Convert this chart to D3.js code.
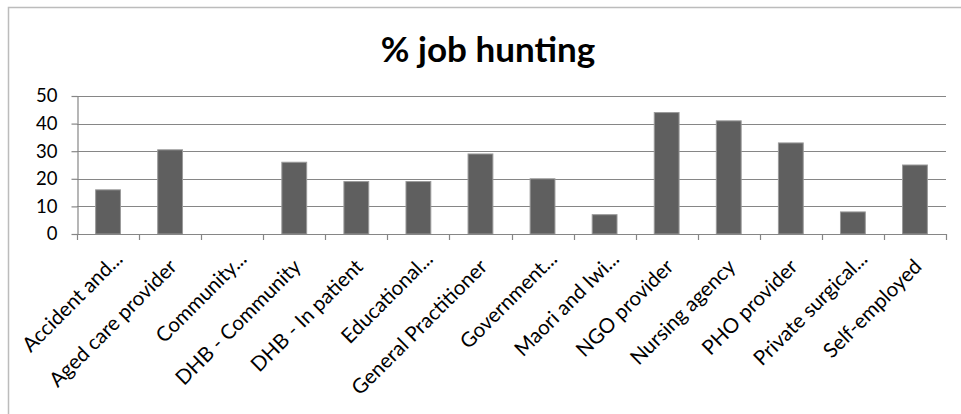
<!DOCTYPE html>
<html>
<head>
<meta charset="utf-8">
<script src="https://cdn.jsdelivr.net/npm/d3@7"></script>
<style>
  body { margin: 0; background: #fff; }
  svg { display: block; font-family: Lato, "Liberation Sans", sans-serif; }
</style>
</head>
<body>
<div id="chart"></div>
<script>
// data
var categories = ["Accident and...", "Aged care provider", "Community...", "DHB - Community",
    "DHB - In patient", "Educational...", "General Practitioner", "Government...",
    "Maori and Iwi...", "NGO provider", "Nursing agency", "PHO provider",
    "Private surgical...", "Self-employed"];
var values = [16, 30.5, 0, 26, 19, 19, 29, 20, 7, 44, 41, 33, 8, 25];
var yTicks = [0, 10, 20, 30, 40, 50];
var title = "% job hunting";

var svgWidth = 961;
var svgHeight = 414;

var margin = { top: 96, right: 15, bottom: 180, left: 77 };
var plotRight = svgWidth - margin.right;
var plotBottom = svgHeight - margin.bottom;

var svg = d3.select("#chart")
    .append("svg")
    .attr("width", svgWidth)
    .attr("height", svgHeight);

// chart area border
svg.append("rect")
    .attr("x", 8.5)
    .attr("y", 7.5)
    .attr("width", 1000)
    .attr("height", 500)
    .attr("fill", "none")
    .attr("stroke", "#bcbcbc")
    .attr("stroke-width", 1.5);

// title
svg.append("text")
    .attr("x", 488)
    .attr("y", 62)
    .attr("text-anchor", "middle")
    .attr("font-size", "35px")
    .attr("font-weight", "bold")
    .attr("fill", "#000")
    .text(title);

// scales
var x = d3.scaleBand()
    .domain(categories)
    .range([margin.left, plotRight])
    .paddingInner(0.6)
    .paddingOuter(0.3);

var y = d3.scaleLinear()
    .domain([0, 50])
    .range([plotBottom, margin.top]);

// gridlines
svg.append("g")
    .selectAll("line")
    .data(yTicks.filter(d => d > 0))
    .enter()
    .append("line")
    .attr("x1", margin.left)
    .attr("x2", plotRight)
    .attr("y1", d => Math.round(y(d)) + 0.5)
    .attr("y2", d => Math.round(y(d)) + 0.5)
    .attr("stroke", "#868686")
    .attr("stroke-width", 1.2);

// y axis
var leftAxis = d3.axisLeft(y)
    .tickValues(yTicks)
    .tickSize(6)
    .tickSizeOuter(0)
    .tickPadding(14);

var yAxis = svg.append("g")
    .attr("transform", `translate(${margin.left + 0.5}, 0)`)
    .call(leftAxis);
yAxis.selectAll("path, line").attr("stroke", "#868686").attr("stroke-width", 1.2);
yAxis.selectAll("text")
    .attr("font-size", "18.5px")
    .attr("font-family", "Lato, sans-serif")
    .attr("fill", "#000");

// bars
svg.append("g")
    .selectAll("rect")
    .data(values)
    .enter()
    .append("rect")
    .attr("x", (d, i) => x(categories[i]))
    .attr("y", d => y(d))
    .attr("width", x.bandwidth())
    .attr("height", d => plotBottom - y(d))
    .attr("fill", "#5f5f5f")
    .attr("stroke", "#9a9a9a")
    .attr("stroke-width", 1);

// x axis line and boundary ticks
var gap = (x.step() - x.bandwidth()) / 2;
var bounds = categories.map(c => x(c) - gap).concat([plotRight]);

svg.append("line")
    .attr("x1", margin.left)
    .attr("x2", plotRight)
    .attr("y1", plotBottom + 0.5)
    .attr("y2", plotBottom + 0.5)
    .attr("stroke", "#868686")
    .attr("stroke-width", 1.2);

svg.append("g")
    .selectAll("line")
    .data(bounds)
    .enter()
    .append("line")
    .attr("x1", d => Math.round(d) + 0.5)
    .attr("x2", d => Math.round(d) + 0.5)
    .attr("y1", plotBottom)
    .attr("y2", plotBottom + 6)
    .attr("stroke", "#868686")
    .attr("stroke-width", 1.2);

// rotated category labels
svg.append("g")
    .selectAll("text")
    .data(categories)
    .enter()
    .append("text")
    .attr("transform", d => `translate(${x(d) + x.bandwidth() / 2 + 8}, ${plotBottom + 34}) rotate(-45)`)
    .attr("dx", d => d.endsWith("...") ? 11 : 0)
    .attr("text-anchor", "end")
    .attr("font-size", "20.5px")
    .attr("fill", "#000")
    .text(d => d);
</script>
</body>
</html>
